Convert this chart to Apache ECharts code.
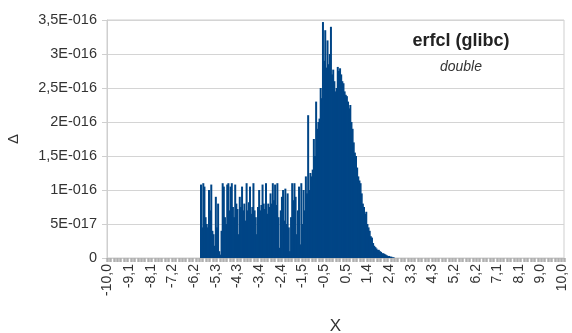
<!DOCTYPE html>
<html>
<head>
<meta charset="utf-8">
<script src="https://cdn.jsdelivr.net/npm/echarts@6/dist/echarts.min.js"></script>
<style>
  html, body { margin: 0; padding: 0; background: #fff; }
  #chart { width: 572px; height: 333px; }
</style>
</head>
<body>
<div id="chart"></div>
<script>
// x runs from -10 to 10 in steps of 0.05 (401 columns), every 19th gets a label
const xFrom = -10, xTo = 10, xStep = 0.05;
const labelEvery = 19;

// first x with a non-zero column
const dataStart = -5.9;
// Δ per column, starting at dataStart
const delta = [
  1.08e-16, 0.45e-16, 1.10e-16, 1.05e-16, 0.60e-16, 0.50e-16, 0.45e-16, 1.00e-16, 0.70e-16, 1.08e-16,
  0.40e-16, 0.35e-16, 0.18e-16, 0.90e-16, 0.45e-16, 0.80e-16, 0.10e-16, 0.05e-16, 0.40e-16, 1.10e-16,
  1.05e-16, 0.60e-16, 0.50e-16, 1.08e-16, 1.10e-16, 0.70e-16, 1.05e-16, 1.10e-16, 0.75e-16, 0.60e-16,
  1.08e-16, 0.80e-16, 0.72e-16, 0.35e-16, 0.90e-16, 0.75e-16, 1.05e-16, 0.70e-16, 0.80e-16, 0.55e-16,
  1.10e-16, 0.70e-16, 0.82e-16, 1.05e-16, 0.65e-16, 0.75e-16, 1.10e-16, 0.70e-16, 0.60e-16, 0.35e-16,
  0.75e-16, 1.00e-16, 0.70e-16, 0.78e-16, 1.08e-16, 0.80e-16, 0.72e-16, 1.10e-16, 0.65e-16, 0.80e-16,
  0.75e-16, 0.95e-16, 0.80e-16, 1.10e-16, 0.85e-16, 1.08e-16, 0.78e-16, 1.10e-16, 0.60e-16, 0.15e-16,
  0.70e-16, 0.90e-16, 1.00e-16, 0.55e-16, 1.02e-16, 0.50e-16, 0.95e-16, 0.45e-16, 0.10e-16, 0.60e-16,
  1.10e-16, 0.85e-16, 1.10e-16, 0.90e-16, 0.35e-16, 0.70e-16, 1.05e-16, 0.20e-16,
  1.10e-16, 0.50e-16, 1.00e-16, 0.70e-16, 1.20e-16, 0.95e-16, 2.10e-16, 1.00e-16, 1.25e-16, 1.20e-16,
  1.30e-16, 1.75e-16, 1.50e-16, 2.30e-16, 1.90e-16, 2.00e-16, 2.05e-16, 2.50e-16, 2.35e-16, 3.47e-16,
  2.90e-16, 3.35e-16, 2.80e-16, 3.20e-16, 2.85e-16, 3.00e-16, 3.40e-16, 2.70e-16, 2.77e-16, 2.60e-16,
  2.45e-16, 2.50e-16, 2.81e-16, 2.75e-16, 2.79e-16, 2.70e-16, 2.60e-16, 2.57e-16, 2.45e-16, 2.40e-16,
  2.38e-16, 2.30e-16, 2.20e-16, 2.25e-16, 2.00e-16, 1.90e-16, 1.70e-16, 1.55e-16, 1.50e-16, 1.33e-16,
  1.20e-16, 1.14e-16, 1.10e-16, 0.95e-16, 0.80e-16, 0.75e-16, 0.65e-16, 0.68e-16, 0.50e-16, 0.45e-16,
  0.40e-16, 0.32e-16, 0.30e-16, 0.22e-16, 0.18e-16, 0.16e-16, 0.14e-16, 0.12e-16, 0.12e-16, 0.10e-16,
  0.09e-16, 0.07e-16, 0.07e-16, 0.06e-16, 0.05e-16, 0.04e-16, 0.03e-16, 0.03e-16, 0.02e-16, 0.02e-16,
  0.01e-16, 0.01e-16
];

const yTicks = { min: 0, max: 3.5e-16, step: 0.5e-16 };

// category names with one decimal and a comma, rounded half away from zero
const nCols = Math.round((xTo - xFrom) / xStep) + 1;
const categories = [];
for (let i = 0; i < nCols; i++) {
  const h = Math.round((xFrom + i * xStep) * 100);   // hundredths
  const t = Math.floor((Math.abs(h) + 5) / 10);       // tenths
  const s = (h < 0 ? '-' : '') + Math.floor(t / 10) + ',' + (t % 10);
  categories.push(s);
}

const firstIdx = Math.round((dataStart - xFrom) / xStep);
const values = categories.map((c, i) =>
  (i >= firstIdx && i < firstIdx + delta.length) ? delta[i - firstIdx] : 0);

function sciLabel(v) {
  if (v === 0) return '0';
  let e = Math.floor(Math.log10(v));
  let m = Math.round(v / Math.pow(10, e) * 100) / 100;
  if (m >= 10) { m = Math.round(m) / 10; e++; }
  return String(m).replace('.', ',') + 'E' + (e < 0 ? '-' : '+') + String(Math.abs(e)).padStart(3, '0');
}

const chart = echarts.init(document.getElementById('chart'));
chart.setOption({
  animation: false,
  textStyle: { fontFamily: 'Liberation Sans' },
  title: {
    text: 'erfcl (glibc)',
    subtext: 'double',
    left: 456,
    top: 27,
    textAlign: 'center',
    itemGap: 10,
    textStyle: { fontSize: 18, fontWeight: 'bold', color: '#222' },
    subtextStyle: { fontSize: 14, fontStyle: 'italic', color: '#333' }
  },
  grid: {
    left: 107, right: 8, top: 20, bottom: 75,
    outerBoundsMode: 'none',
    containLabel: false,
    show: true, borderColor: '#cfcfcf', borderWidth: 1
  },
  xAxis: {
    type: 'category',
    data: categories,
    name: 'X',
    nameLocation: 'middle',
    nameGap: 60,
    nameTextStyle: { fontSize: 17, color: '#333' },
    axisLine: { show: true, lineStyle: { color: '#cfcfcf' } },
    axisTick: {
      show: true, interval: 2, length: 4,
      lineStyle: { color: '#b0b0b0', width: 2.5 }
    },
    axisLabel: {
      interval: labelEvery - 1,
      rotate: 90,
      fontSize: 14,
      color: '#333',
      margin: 6
    }
  },
  yAxis: {
    type: 'value',
    min: yTicks.min,
    max: yTicks.max,
    interval: yTicks.step,
    name: 'Δ',
    nameLocation: 'middle',
    nameGap: 86,
    nameTextStyle: { fontSize: 15, color: '#333' },
    axisLine: { show: true, lineStyle: { color: '#cfcfcf' } },
    axisTick: { show: true, length: 5, lineStyle: { color: '#cfcfcf' } },
    splitLine: { lineStyle: { color: '#d4d4d4' } },
    axisLabel: { fontSize: 14.5, color: '#333', margin: 10, formatter: sciLabel }
  },
  series: [{
    type: 'bar',
    data: values,
    barWidth: 2,
    itemStyle: { color: '#004586' }
  }]
});
</script>
</body>
</html>
